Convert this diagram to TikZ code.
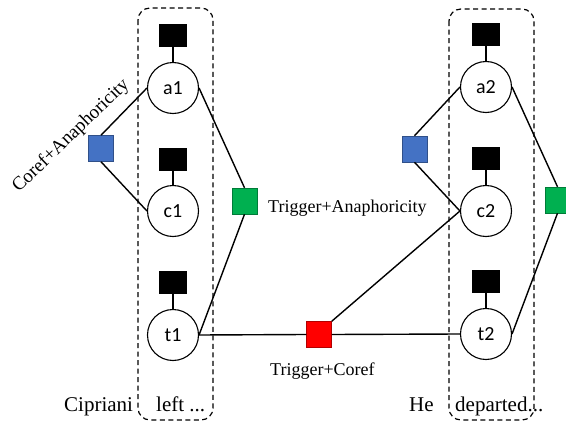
\documentclass[tikz,border=0pt]{standalone}
\usepackage{fontspec}
\setmainfont{Liberation Serif}
\newfontfamily\nodefont{Carlito}
\definecolor{fblue}{RGB}{68,114,196}
\definecolor{fgreen}{RGB}{0,176,80}
\definecolor{fred}{RGB}{255,0,0}
\begin{document}
\begin{tikzpicture}[x=1pt,y=-1pt,
  var/.style={circle,draw,line width=1.1pt,minimum size=51pt,inner sep=0pt,font=\nodefont\fontsize{20}{20}\selectfont},
  unary/.style={rectangle,fill=black,minimum width=28pt,minimum height=23pt,inner sep=0pt},
  fac/.style={rectangle,minimum width=25pt,minimum height=26pt,inner sep=0pt,draw=#1!70!black,line width=0.5pt,fill=#1},
  edge/.style={line width=1.4pt},
  lbl/.style={inner sep=0pt,font=\fontsize{18}{18}\selectfont},
  wlbl/.style={inner sep=0pt,font=\fontsize{21}{21}\selectfont},
  grp/.style={draw,line width=1.2pt,rounded corners=12pt,dash pattern=on 5pt off 3.5pt}
]
\useasboundingbox (0,0) rectangle (566,423);
\clip (0,0) rectangle (566,423);
\fill[white] (0,0) rectangle (566,423);

% groups
\draw[grp] (138,8) rectangle (213,420);
\draw[grp] (449,9) rectangle (534,420);

% variable nodes
\node[var] (a1) at (173,88) {a1};
\node[var] (c1) at (173,211) {c1};
\node[var] (t1) at (173,335) {t1};
\node[var] (a2) at (486,87) {a2};
\node[var] (c2) at (486,211) {c2};
\node[var] (t2) at (486,334) {t2};

% unary factors
\node[unary] (ua1) at (173,35.5) {};
\node[unary] (uc1) at (173,159) {};
\node[unary] (ut1) at (173,282) {};
\node[unary] (ua2) at (486,34.5) {};
\node[unary] (uc2) at (486,158) {};
\node[unary] (ut2) at (486,281) {};

% pairwise factors
\node[fac=fblue] (b1) at (101,148.5) {};
\node[fac=fgreen] (g1) at (244.5,201) {};
\node[fac=fred] (r) at (319,334.5) {};
\node[fac=fblue] (b2) at (414.5,149) {};
\node[fac=fgreen] (g2) at (557.5,200) {};

% edges
\draw[edge] (ua1) -- (a1);
\draw[edge] (uc1) -- (c1);
\draw[edge] (ut1) -- (t1);
\draw[edge] (ua2) -- (a2);
\draw[edge] (uc2) -- (c2);
\draw[edge] (ut2) -- (t2);

\draw[edge] (a1.west) -- (b1.north);
\draw[edge] (b1.south) -- (c1.west);
\draw[edge] (a1.east) -- (g1.north);
\draw[edge] (g1.south) -- (t1.east);
\draw[edge] (t1.east) -- (r.west);
\draw[edge] (r.east) -- (t2.west);
\draw[edge] (r.north east) -- (c2.west);
\draw[edge] (a2.west) -- (b2.north);
\draw[edge] (b2.south) -- (c2.west);
\draw[edge] (a2.east) -- (g2.north);
\draw[edge] (g2.south) -- (t2.east);

% labels
\node[lbl,rotate=44,font=\fontsize{19}{19}\selectfont] (lca) at (71,136) {Coref+Anaphoricity};
\node[lbl,anchor=base west] (lta) at (268,212) {Trigger+Anaphoricity};
\node[lbl,anchor=base west] (ltc) at (270,375) {Trigger+Coref};
\node[wlbl,anchor=base west] (w1) at (64,411) {Cipriani};
\node[wlbl,anchor=base west] (w2) at (156,411) {left ...};
\node[wlbl,anchor=base west] (w3) at (409,411) {He};
\node[wlbl,anchor=base west] (w4) at (455,411) {departed...};
\end{tikzpicture}
\end{document}
